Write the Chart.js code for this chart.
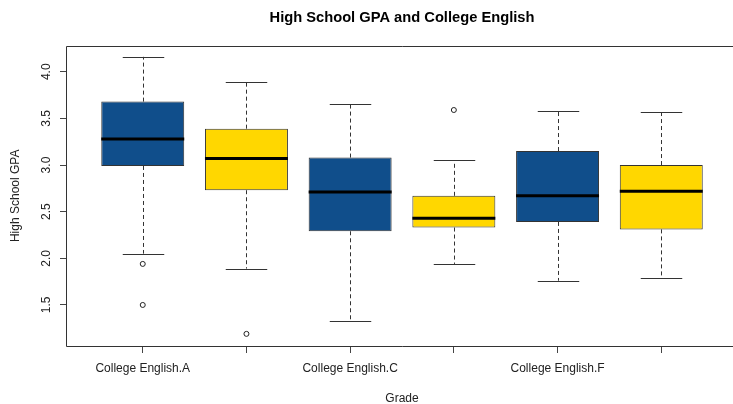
<!DOCTYPE html>
<html>
<head>
<meta charset="utf-8">
<script src="https://cdn.jsdelivr.net/npm/chart.js@4"></script>
<style>
  html, body { margin: 0; padding: 0; overflow: hidden; background: #fff; }
  #wrap { width: 733px; height: 404px; overflow: hidden; }
</style>
</head>
<body>
<div id="wrap"><canvas id="gpa" width="804" height="406"></canvas></div>
<script>
// groups along the x axis
const categories = [
    'College English.A',
    'College English.B',
    'College English.C',
    'College English.D',
    'College English.F',
    'College English.W'
];
// five-number summaries
const lowerWhisker = [2.05, 1.89, 1.33, 1.94, 1.76, 1.79];
const q1 = [2.99, 2.73, 2.29, 2.33, 2.39, 2.31];
const medians = [3.28, 3.07, 2.71, 2.43, 2.67, 2.72];
const q3 = [3.68, 3.39, 3.08, 2.67, 3.15, 3.00];
const upperWhisker = [4.16, 3.89, 3.65, 3.05, 3.58, 3.57];
const outliers = [[1.94, 1.5], [1.19], [], [3.59], [], []];
const yTicks = [1.5, 2.0, 2.5, 3.0, 3.5, 4.0];

const boxColors = ['#104E8B', '#FFD700', '#104E8B', '#FFD700', '#104E8B', '#FFD700'];
const ink = '#222';

Chart.defaults.font.family = "'Liberation Sans', Arial, sans-serif";
Chart.defaults.font.size = 12;
Chart.defaults.color = ink;

const boxData = categories.map((c, i) => ({x: i + 1, y: [q1[i], q3[i]]}));
const outlierData = outliers.flatMap((vals, i) => vals.map(v => ({x: i + 1, y: v})));

// whiskers, medians, frame and the rotated y labels R style
const boxExtras = {
    id: 'boxExtras',
    beforeDatasetsDraw(chart) {
        const {ctx, scales: {x, y}} = chart;
        const bars = chart.getDatasetMeta(0).data;
        ctx.save();
        ctx.strokeStyle = '#333';
        ctx.lineWidth = 1;
        categories.forEach((c, i) => {
            const px = Math.round(x.getPixelForValue(i + 1)) + 0.5;
            const half = bars[i].width / 4;
            ctx.setLineDash([4, 3]);
            ctx.beginPath();
            ctx.moveTo(px, y.getPixelForValue(q3[i]));
            ctx.lineTo(px, y.getPixelForValue(upperWhisker[i]));
            ctx.moveTo(px, y.getPixelForValue(q1[i]));
            ctx.lineTo(px, y.getPixelForValue(lowerWhisker[i]));
            ctx.stroke();
            ctx.setLineDash([]);
            ctx.beginPath();
            [upperWhisker[i], lowerWhisker[i]].forEach(v => {
                const py = Math.round(y.getPixelForValue(v)) + 0.5;
                ctx.moveTo(px - half, py);
                ctx.lineTo(px + half, py);
            });
            ctx.stroke();
        });
        ctx.restore();
    },
    afterDatasetsDraw(chart) {
        const {ctx, chartArea: a, scales: {x, y}} = chart;
        const bars = chart.getDatasetMeta(0).data;
        ctx.save();
        ctx.strokeStyle = '#000';
        ctx.lineWidth = 3;
        categories.forEach((c, i) => {
            const px = x.getPixelForValue(i + 1);
            const half = bars[i].width / 2;
            const py = y.getPixelForValue(medians[i]);
            ctx.beginPath();
            ctx.moveTo(px - half, py);
            ctx.lineTo(px + half, py);
            ctx.stroke();
        });
        // plot frame, open on the right where the original is cut off
        ctx.lineWidth = 1;
        ctx.strokeStyle = '#333';
        const l = Math.round(a.left) + 0.5, t = Math.round(a.top) + 0.5;
        const b = Math.round(a.bottom) + 0.5;
        ctx.beginPath();
        ctx.moveTo(a.right, t);
        ctx.lineTo(l, t);
        ctx.lineTo(l, b);
        ctx.lineTo(a.right, b);
        ctx.stroke();
        ctx.fillStyle = ink;
        ctx.font = "12px 'Liberation Sans', Arial, sans-serif";
        ctx.textAlign = 'center';
        ctx.textBaseline = 'alphabetic';
        y.ticks.forEach(tk => {
            ctx.save();
            ctx.translate(a.left - 16, y.getPixelForValue(tk.value));
            ctx.rotate(-Math.PI / 2);
            ctx.fillText(tk.value.toFixed(1), 0, 0);
            ctx.restore();
        });
        ctx.restore();
    }
};

new Chart(document.getElementById('gpa'), {
    type: 'bar',
    data: {
        datasets: [{
            data: boxData,
            backgroundColor: boxColors,
            borderColor: '#333',
            borderWidth: 1,
            borderSkipped: false,
            categoryPercentage: 1,
            barPercentage: 0.8
        }, {
            type: 'scatter',
            data: outlierData,
            pointStyle: 'circle',
            pointRadius: 2.5,
            backgroundColor: 'rgba(0,0,0,0)',
            borderColor: '#222',
            borderWidth: 1
        }]
    },
    options: {
        responsive: false,
        devicePixelRatio: 1,
        animation: false,
        events: [],
        layout: {padding: {left: 0, right: 66, top: 0, bottom: 0}},
        plugins: {
            legend: {display: false},
            tooltip: {enabled: false},
            title: {
                display: true,
                text: 'High School GPA and College English',
                fullSize: false,
                color: '#000',
                font: {size: 14.7, weight: 'bold'},
                padding: {top: 9, bottom: 19}
            }
        },
        scales: {
            x: {
                type: 'linear',
                min: 0.26,
                max: 6.74,
                offset: false,
                afterBuildTicks: s => { s.ticks = categories.map((c, i) => ({value: i + 1})); },
                afterFit: s => { s.height = 60; },
                grid: {offset: false, drawOnChartArea: false, drawTicks: true, tickLength: 7, color: '#444'},
                border: {display: false},
                ticks: {
                    maxRotation: 0,
                    autoSkip: false,
                    padding: 8,
                    callback: (v, i) => i % 2 === 0 ? categories[i] : ''
                },
                title: {display: true, text: 'Grade', padding: {top: 0, bottom: 0}}
            },
            y: {
                min: 1.06,
                max: 4.28,
                afterBuildTicks: s => { s.ticks = yTicks.map(v => ({value: v})); },
                afterFit: s => { s.width = 66; },
                grid: {drawOnChartArea: false, drawTicks: true, tickLength: 6, color: '#444'},
                border: {display: false},
                ticks: {display: false},
                title: {display: true, text: 'High School GPA', padding: {top: 8, bottom: 0}}
            }
        }
    },
    plugins: [boxExtras]
});
</script>
</body>
</html>
